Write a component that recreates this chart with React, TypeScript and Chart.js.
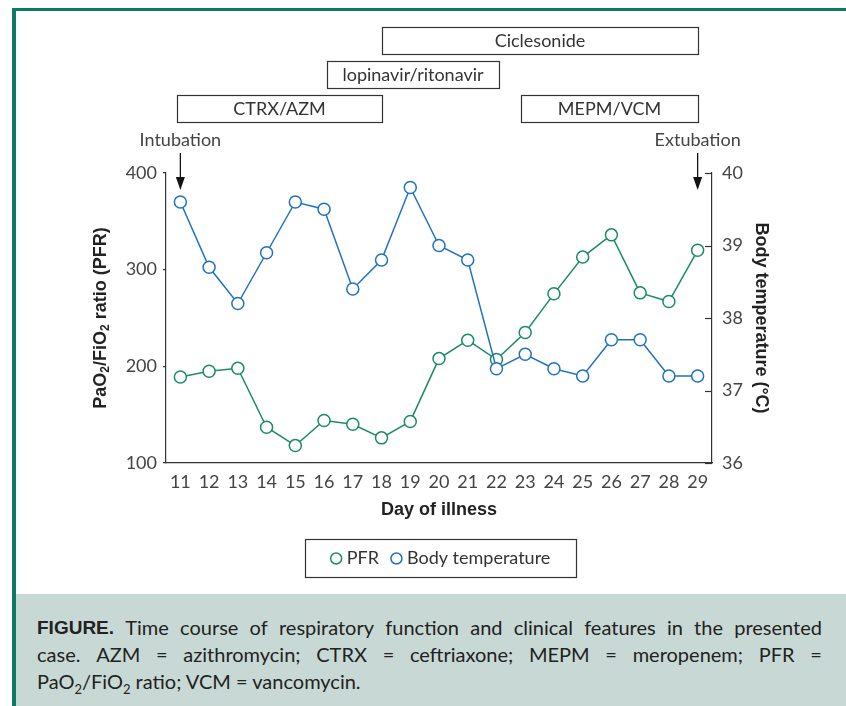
import React, { useEffect, useRef } from 'react';
import { Chart, registerables } from 'chart.js';

Chart.register(...registerables);

const days = ['11', '12', '13', '14', '15', '16', '17', '18', '19', '20', '21', '22', '23', '24', '25', '26', '27', '28', '29'];
const pfrValues = [189, 195, 198, 137, 118, 144, 140, 126, 143, 208, 227, 207, 235, 275, 313, 336, 276, 267, 320];
const tempValues = [39.6, 38.7, 38.2, 38.9, 39.6, 39.5, 38.4, 38.8, 39.8, 39.0, 38.8, 37.3, 37.5, 37.3, 37.2, 37.7, 37.7, 37.2, 37.2];
const pfrTicks = [100, 200, 300, 400];
const tempTicks = [36, 37, 38, 39, 40];
const seriesNames = ['PFR', 'Body temperature'];

const treatmentNames = ['Ciclesonide', 'lopinavir/ritonavir', 'CTRX/AZM', 'MEPM/VCM'];
const treatmentStart = [18, 16.1, 10.9, 22.85];
const treatmentEnd = [29, 22.1, 18, 29];
const treatmentRow = [2, 1, 0, 0];

const eventLabels = ['Intubation', 'Extubation'];
const eventDays = [11, 29];

const GREEN = '#1b8a6b';
const BLUE = '#1f72c2';
const TEAL = '#0e7a64';
const INK = '#333333';
const LIGHT_FONT = 'Lato, "Open Sans", sans-serif';
const BOLD_FONT = '"Liberation Sans", Arial, sans-serif';

const overlayPlugin = {
  id: 'overlay',
  afterDraw(chart: any) {
    const ctx: CanvasRenderingContext2D = chart.ctx;
    const xs = chart.scales.x;
    const y1 = chart.scales.y1;
    const { top, bottom, right } = chart.chartArea;
    const firstDay = Number(days[0]);
    ctx.save();

    // treatment boxes
    ctx.font = `18px ${LIGHT_FONT}`;
    ctx.textAlign = 'center';
    ctx.textBaseline = 'middle';
    treatmentNames.forEach((name, i) => {
      const x0 = Math.round(xs.getPixelForValue(treatmentStart[i] - firstDay));
      const x1 = Math.round(xs.getPixelForValue(treatmentEnd[i] - firstDay));
      const yTop = 95 - treatmentRow[i] * 34;
      ctx.fillStyle = '#ffffff';
      ctx.fillRect(x0, yTop, x1 - x0, 27);
      ctx.strokeStyle = INK;
      ctx.lineWidth = 1.2;
      ctx.strokeRect(x0 + 0.5, yTop + 0.5, x1 - x0, 27);
      ctx.fillStyle = INK;
      ctx.fillText(name, (x0 + x1) / 2, yTop + 14.5);
    });

    // intubation / extubation arrows
    eventLabels.forEach((label, i) => {
      const px = xs.getPixelForValue(eventDays[i] - firstDay);
      ctx.fillStyle = '#444';
      ctx.font = `18px ${LIGHT_FONT}`;
      ctx.textAlign = 'center';
      ctx.textBaseline = 'middle';
      ctx.fillText(label, px, 140);
      ctx.strokeStyle = '#111';
      ctx.lineWidth = 1.3;
      ctx.beginPath();
      ctx.moveTo(px, 153);
      ctx.lineTo(px, 182);
      ctx.stroke();
      ctx.fillStyle = '#111';
      ctx.beginPath();
      ctx.moveTo(px - 4.5, 177);
      ctx.lineTo(px + 4.5, 177);
      ctx.lineTo(px, 190);
      ctx.closePath();
      ctx.fill();
    });

    // right axis inward ticks
    ctx.strokeStyle = INK;
    ctx.lineWidth = 1.2;
    tempTicks.forEach((v) => {
      const py = Math.round(y1.getPixelForValue(v)) + 0.5;
      ctx.beginPath();
      ctx.moveTo(right - 7, py);
      ctx.lineTo(right, py);
      ctx.stroke();
    });

    // left axis title with subscripts
    const mid = (top + bottom) / 2;
    const parts: [string, boolean][] = [['PaO', false], ['2', true], ['/FiO', false], ['2', true], [' ratio (PFR)', false]];
    const mainFont = `bold 18px ${BOLD_FONT}`;
    const subFont = `bold 12px ${BOLD_FONT}`;
    let total = 0;
    parts.forEach(([t, sub]) => {
      ctx.font = sub ? subFont : mainFont;
      total += ctx.measureText(t).width;
    });
    ctx.save();
    ctx.translate(101, mid);
    ctx.rotate(-Math.PI / 2);
    ctx.fillStyle = '#222';
    ctx.textAlign = 'left';
    ctx.textBaseline = 'middle';
    let cx = -total / 2;
    parts.forEach(([t, sub]) => {
      ctx.font = sub ? subFont : mainFont;
      ctx.fillText(t, cx, sub ? 5 : 0);
      cx += ctx.measureText(t).width;
    });
    ctx.restore();

    // right axis title
    ctx.save();
    ctx.translate(761, mid);
    ctx.rotate(Math.PI / 2);
    ctx.font = mainFont;
    ctx.fillStyle = '#222';
    ctx.textAlign = 'center';
    ctx.textBaseline = 'middle';
    ctx.fillText('Body temperature (°C)', 0, 0);
    ctx.restore();

    // legend
    const colors = [GREEN, BLUE];
    ctx.font = `18px ${LIGHT_FONT}`;
    const r = 5.5;
    const gapMarker = 5;
    const gapItem = 12;
    const widths = seriesNames.map((n) => ctx.measureText(n).width);
    const contentW = widths.reduce((a, w) => a + 2 * r + gapMarker + w, 0) + gapItem;
    const boxL = 305, boxR = 576, boxT = 539, boxB = 577;
    ctx.strokeStyle = INK;
    ctx.lineWidth = 1.2;
    ctx.strokeRect(boxL + 0.5, boxT + 0.5, boxR - boxL, boxB - boxT);
    let lx = (boxL + boxR) / 2 - contentW / 2;
    const ly = (boxT + boxB) / 2 + 0.5;
    seriesNames.forEach((n, i) => {
      ctx.beginPath();
      ctx.arc(lx + r, ly, r, 0, Math.PI * 2);
      ctx.strokeStyle = colors[i];
      ctx.lineWidth = 1.5;
      ctx.stroke();
      lx += 2 * r + gapMarker;
      ctx.fillStyle = INK;
      ctx.textAlign = 'left';
      ctx.textBaseline = 'middle';
      ctx.fillText(n, lx, ly);
      lx += widths[i] + gapItem;
    });

    ctx.restore();
  },
};

export default function App() {
  const canvasRef = useRef<HTMLCanvasElement | null>(null);

  useEffect(() => {
    const canvas = canvasRef.current;
    if (!canvas) return;
    const chart = new Chart(canvas, {
      type: 'line',
      data: {
        labels: days,
        datasets: [
          {
            label: seriesNames[0],
            data: pfrValues,
            yAxisID: 'y',
            borderColor: GREEN,
            borderWidth: 1.5,
            pointRadius: 6,
            pointHoverRadius: 6,
            pointBorderWidth: 1.5,
            pointBackgroundColor: '#ffffff',
            pointBorderColor: GREEN,
            tension: 0,
            order: 1,
          },
          {
            label: seriesNames[1],
            data: tempValues,
            yAxisID: 'y1',
            borderColor: BLUE,
            borderWidth: 1.5,
            pointRadius: 6,
            pointHoverRadius: 6,
            pointBorderWidth: 1.5,
            pointBackgroundColor: '#ffffff',
            pointBorderColor: BLUE,
            tension: 0,
            order: 0,
          },
        ],
      },
      options: {
        responsive: false,
        animation: false,
        devicePixelRatio: 1,
        layout: { padding: { top: 173, bottom: 73, left: 0, right: 0 } },
        plugins: {
          legend: { display: false },
          tooltip: { enabled: false },
          title: { display: false },
        },
        scales: {
          x: {
            type: 'category',
            offset: true,
            grid: { display: false, drawTicks: false },
            border: { display: true, color: INK, width: 1.2 },
            ticks: {
              color: '#444',
              font: { family: LIGHT_FONT, size: 18 },
              padding: 8,
              maxRotation: 0,
              autoSkip: false,
            },
            title: {
              display: true,
              text: 'Day of illness',
              color: '#222',
              font: { family: BOLD_FONT, size: 18, weight: 'bold', lineHeight: 1.2 },
              padding: { top: 0, bottom: 0 },
            },
            afterFit: (scale: any) => {
              scale.height = 58;
            },
          },
          y: {
            type: 'linear',
            position: 'left',
            min: 100,
            max: 400,
            afterBuildTicks: (scale: any) => {
              scale.ticks = pfrTicks.map((v) => ({ value: v }));
            },
            grid: { drawOnChartArea: false, drawTicks: true, tickLength: 3, color: INK, lineWidth: 1.2 },
            border: { display: true, color: INK, width: 1.2 },
            ticks: {
              color: '#444',
              font: { family: LIGHT_FONT, size: 18 },
              padding: 6,
            },
            afterFit: (scale: any) => {
              scale.width = 166;
            },
          },
          y1: {
            type: 'linear',
            position: 'right',
            min: 36,
            max: 40,
            afterBuildTicks: (scale: any) => {
              scale.ticks = tempTicks.map((v) => ({ value: v }));
            },
            grid: { drawOnChartArea: false, drawTicks: false },
            border: { display: true, color: INK, width: 1.2 },
            ticks: {
              color: '#444',
              font: { family: LIGHT_FONT, size: 18 },
              padding: 10,
            },
            afterFit: (scale: any) => {
              scale.width = 134;
            },
          },
        },
      },
      plugins: [overlayPlugin],
    });
    return () => chart.destroy();
  }, []);

  return (
    <div style={{ position: 'fixed', left: 0, top: 0, width: 846, height: 706, background: '#ffffff', overflow: 'hidden' }}>
      <div
        style={{
          position: 'absolute',
          left: 12,
          top: 8,
          right: 0,
          bottom: 0,
          borderLeft: `4px solid ${TEAL}`,
          borderTop: `3px solid ${TEAL}`,
        }}
      />
      <canvas
        ref={canvasRef}
        width={846}
        height={594}
        style={{ position: 'absolute', left: 0, top: 0, width: 846, height: 594 }}
      />
      <div
        style={{
          position: 'absolute',
          left: 16,
          top: 594,
          right: 0,
          bottom: 0,
          background: '#c8d9d5',
          boxSizing: 'border-box',
          padding: '20px 24px 0 21px',
          fontFamily: LIGHT_FONT,
          fontSize: 20,
          lineHeight: '27px',
          color: '#222',
        }}
      >
        <div style={{ display: 'flex', justifyContent: 'space-between', height: 27 }}>
          {'FIGURE.|Time|course|of|respiratory|function|and|clinical|features|in|the|presented'.split('|').map((w, i) => (
            <span key={i} style={i === 0 ? { fontWeight: 'bold', fontFamily: BOLD_FONT, fontSize: 19 } : undefined}>{w}</span>
          ))}
        </div>
        <div style={{ display: 'flex', justifyContent: 'space-between', height: 27 }}>
          {'case.|AZM|=|azithromycin;|CTRX|=|ceftriaxone;|MEPM|=|meropenem;|PFR|='.split('|').map((w, i) => (
            <span key={i}>{w}</span>
          ))}
        </div>
        <div style={{ height: 27, whiteSpace: 'nowrap' }}>
          PaO<sub style={{ fontSize: 13, lineHeight: 0 }}>2</sub>/FiO<sub style={{ fontSize: 13, lineHeight: 0 }}>2</sub> ratio; VCM = vancomycin.
        </div>
      </div>
    </div>
  );
}
